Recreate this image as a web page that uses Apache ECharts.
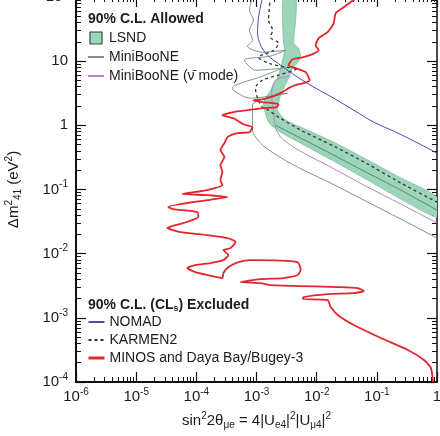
<!DOCTYPE html>
<html><head><meta charset="utf-8">
<script src="https://cdn.jsdelivr.net/npm/echarts@6/dist/echarts.min.js"></script>
<style>html,body{margin:0;padding:0;background:#fff}#c{width:440px;height:436px}</style>
</head><body><div id="c"></div>
<script>
// ---- axis ticks / labels ----
const xTickValues = [1e-6, 1e-5, 1e-4, 1e-3, 1e-2, 1e-1, 1];
const xTickLabels = [['10','-6'],['10','-5'],['10','-4'],['10','-3'],['10','-2'],['10','-1'],['1','']];
const yTickValues = [1e-4, 1e-3, 1e-2, 1e-1, 1, 10, 100];
const yTickLabels = [['10','-4'],['10','-3'],['10','-2'],['10','-1'],['1',''],['10',''],['10','2']];

// ---- series data [sin^2 2theta, dm^2] ----
const lsndBand = [
  [2.82e-3,100],[2.71e-3,43.5],[2.82e-3,19.1],[2.93e-3,14.8],[2.71e-3,10.4],[2.33e-3,6.05],
  [1.71e-3,3.53],[1.31e-3,2.22],[1.585e-3,1.12],[2.51e-3,0.783],[5.41e-3,0.528],[0.0192,0.277],
  [0.0708,0.140],[0.251,0.0708],[1.0,0.0372],
  [1.0,0.0762],[0.251,0.151],[0.0708,0.287],[0.0192,0.547],[5.41e-3,0.938],[3.04e-3,1.21],
  [2.24e-3,1.72],[2.51e-3,2.95],[3.29e-3,5.06],[3.98e-3,7.78],[5.41e-3,11.1],[5.01e-3,15.9],
  [4.14e-3,19.1],[4.47e-3,43.5],[4.47e-3,100]
];
const lsndInner = [[2.07e-3,1.0],[5.41e-3,0.633],[0.0192,0.344],[0.0708,0.180],[0.251,0.098],[1.0,0.0477]];

const miniboone = [
  [8.58e-4,100],[7.65e-4,62.3],[8.91e-4,43.5],[7.65e-4,30.4],[8.58e-4,21.2],[7.08e-4,17.1],
  [1.26e-3,13.8],[3.04e-3,14.8],[1.71e-3,12.0],[6.31e-4,10.4],[9.62e-4,7.24],[2.71e-3,7.78],
  [1.26e-3,5.84],[3.98e-4,3.80],[7.94e-4,2.65],[3.29e-3,3.18],[1.26e-3,2.56],[8.58e-4,2.07],
  [8.58e-4,0.841],[1.166e-3,0.528],[1.92e-3,0.369],[4.82e-3,0.223],[0.0171,0.126],
  [0.0656,0.0659],[0.251,0.0346],[1.0,0.0175]
];
const minibooneBar = [
  [3.686e-3,5.84],[2.07e-3,5.06],[1.78e-3,2.95],[1.92e-3,1.72],[2.07e-3,0.938],[2.51e-3,0.655],
  [4.14e-3,0.457],[7.08e-3,0.344],[0.0171,0.223],[0.0656,0.113],[0.251,0.0593],[1.0,0.0300]
];
const nomad = [
  [1.26e-3,100],[1.08e-3,48.4],[1.04e-3,27.3],[1.17e-3,17.7],[1.52e-3,12.4],[2.51e-3,8.66],
  [4.82e-3,5.63],[9.6e-3,3.80],[0.0192,2.65],[0.0414,1.72],[0.0891,1.12],[0.224,0.757],
  [0.482,0.528],[1.0,0.369]
];
const karmen = [
  [1.71e-3,100],[1.585e-3,43.5],[1.85e-3,30.4],[1.71e-3,23.6],[2.33e-3,19.1],[1.92e-3,14.8],
  [1.08e-3,11.5],[1.585e-3,9.31],[3.04e-3,8.07],[4.82e-3,7.78],[2.33e-3,6.05],[1.26e-3,5.06],
  [9.62e-4,3.80],[1.04e-3,2.65],[1.26e-3,1.92],[1.585e-3,1.72],[2.33e-3,1.34],[4.47e-3,0.938],
  [5.41e-3,0.841],[0.0192,0.474],[0.0708,0.249],[0.251,0.126],[1.0,0.0637]
];
const minos = [
  [0.048,100],[0.0282,69.4],[0.0207,56],[0.0192,39.1],[0.0152,28.3],[0.0108,22.8],[0.0096,17.7],
  [0.0108,14.8],[0.00858,12.9],[0.00585,11.5],[0.00398,10.7],[0.00341,8.66],[0.00447,7.78],
  [0.00656,6.74],[0.00764,5.06],[0.00607,4.54],[0.00447,4.23],[0.00341,3.80],[0.00271,3.29],
  [0.00192,2.85],[0.00131,2.56],[0.000891,2.47],[0.00126,2.30],[0.00233,2.14],[0.00215,1.92],
  [0.00126,1.85],[0.000708,1.72],[0.000414,1.61],[0.000271,1.44],[0.000414,1.29],[0.000607,1.04],
  [0.000857,0.938],[0.000764,0.783],[0.000482,0.757],[0.000329,0.655],[0.000293,0.528],
  [0.000251,0.411],[0.000293,0.320],[0.000251,0.240],[0.000271,0.187],[0.000251,0.140],
  [0.000271,0.117],[0.000152,0.098],[5.85e-5,0.0848],[0.000152,0.0818],[0.000329,0.0762],
  [0.000152,0.0684],[3.41e-5,0.0532],[4.14e-5,0.0495],[0.000104,0.0445],[0.000108,0.0372],
  [6.07e-5,0.0300],[3.29e-5,0.0251],[5.41e-5,0.0217],[0.000152,0.0195],[0.000329,0.0175],
  [0.000447,0.0152],[0.000369,0.0122],[0.000282,0.0114],[0.000341,0.00951],[0.000282,0.00794],
  [0.000171,0.00714],[9.62e-5,0.00664],[7.08e-5,0.00597],[9.62e-5,0.00516],[0.000152,0.00465],
  [0.000271,0.00417],[0.000282,0.00499],[0.000341,0.00618],[0.000501,0.00740],[0.000794,0.00794],
  [0.00482,0.00740],[0.00541,0.00556],[0.00482,0.00465],[0.00282,0.00417],[0.00117,0.00402],
  [0.000541,0.00361],[0.00117,0.00348],[0.00171,0.00324],[0.0224,0.00302],[0.0482,0.00291],
  [0.0607,0.00261],[0.0414,0.00243],[0.0152,0.00235],[0.00607,0.00211],[0.00585,0.00196],
  [0.0152,0.00189],[0.0171,0.00147],[0.0224,0.00111],[0.0414,0.000773],[0.117,0.000484],
  [0.329,0.000315],[0.607,0.000220],[0.794,0.000165],[0.857,0.0001]
];

// minor ticks (2..9 x each decade)
function minorTicks(lo, hi) {
  const out = [];
  for (let e = lo; e < hi; e++) for (let m = 2; m <= 9; m++) out.push(m * Math.pow(10, e));
  return out;
}
const xMinor = minorTicks(-6, 0);
const yMinor = minorTicks(-4, 2);

const FONT = 'Liberation Sans';
const INK = '#1c1c1c';
const rich = {
  b: {fontSize: 15, lineHeight: 20, fontFamily: FONT, color: INK},
  s: {fontSize: 10, fontFamily: FONT, color: INK, padding: [0, 0, 10, 0]}
};
function makeFmt(vals, labels) {
  return function (v) {
    for (let i = 0; i < vals.length; i++) {
      if (Math.abs(Math.log10(v) - Math.log10(vals[i])) < 1e-6) {
        const l = labels[i];
        return '{b|' + l[0] + '}' + (l[1] ? '{s|' + l[1] + '}' : '');
      }
    }
    return '';
  };
}

function majorAxis(isX, pos, withLabels, lineW) {
  const vals = isX ? xTickValues : yTickValues;
  return {
    type: 'log', logBase: 10,
    min: isX ? 1e-6 : 1e-4, max: isX ? 1 : 100,
    position: pos,
    axisLine: {show: true, onZero: false, lineStyle: {color: '#111', width: lineW}},
    axisTick: {show: true, inside: true, length: 10, customValues: vals, lineStyle: {color: '#111', width: 1.2}},
    axisLabel: withLabels ? {show: true, customValues: vals, margin: isX ? 5 : 8, formatter: makeFmt(vals, isX ? xTickLabels : yTickLabels), rich: rich} : {show: false},
    splitLine: {show: false}, minorTick: {show: false}, axisPointer: {show: false}
  };
}
function minorAxis(isX, pos) {
  return {
    type: 'log', logBase: 10,
    min: isX ? 1e-6 : 1e-4, max: isX ? 1 : 100,
    position: pos,
    axisLine: {show: false, onZero: false},
    axisTick: {show: true, inside: true, length: 5, customValues: isX ? xMinor : yMinor, lineStyle: {color: '#111', width: 1}},
    axisLabel: {show: false}, splitLine: {show: false}
  };
}

const nameRich = {
  sup: {fontSize: 10, fontFamily: FONT, color: INK, padding: [0, 0, 9, 0]},
  sub: {fontSize: 10, fontFamily: FONT, color: INK, padding: [9, 0, 0, 0]}
};
const xMain = majorAxis(true, 'bottom', true, 2);
xMain.name = 'sin{sup|2}2θ{sub|μe} = 4|U{sub|e4}|{sup|2}|U{sub|μ4}|{sup|2}';
xMain.nameLocation = 'middle';
xMain.nameGap = 28;
xMain.nameTextStyle = {fontSize: 15, fontFamily: FONT, color: INK, lineHeight: 22, rich: nameRich};
const yMain = majorAxis(false, 'left', true, 2);
yMain.name = 'Δm{sup|2}{sub|41} (eV{sup|2})';
yMain.nameLocation = 'middle';
yMain.nameGap = 51;
yMain.nameTextStyle = {fontSize: 15, fontFamily: FONT, color: INK, lineHeight: 22, rich: nameRich};

const hideSym = {opacity: 0};
const chart = echarts.init(document.getElementById('c'), null, {renderer: 'canvas'});
chart.setOption({
  animation: false,
  backgroundColor: '#fff',
  grid: {left: 76, right: 3, top: -3, bottom: 54, containLabel: false, outerBoundsMode: 'none'},
  title: [
    {text: '90% C.L. Allowed', left: 88, top: 11, padding: 0,
     textStyle: {fontSize: 14, fontWeight: 'bold', fontFamily: FONT, color: INK, lineHeight: 16}},
    {text: '90% C.L. (CL{s|s}) Excluded', left: 88, top: 297, padding: 0,
     textStyle: {fontSize: 14, fontWeight: 'bold', fontFamily: FONT, color: INK, lineHeight: 16,
       rich: {s: {fontSize: 9, fontWeight: 'bold', fontFamily: FONT, color: INK, padding: [7, 0, 0, 0]}}}}
  ],
  legend: [
    {data: [
       {name: 'LSND', icon: 'path://M0,0L12,0L12,12L0,12Z', itemStyle: {color: '#9dd5ba', borderColor: '#2f4a3c', borderWidth: 1.2}},
       {name: 'MiniBooNE', itemStyle: hideSym},
       {name: 'MiniBooNE (ν\u0304 mode)', itemStyle: hideSym}
     ],
     orient: 'vertical', left: 87, top: 31, itemWidth: 16, itemHeight: 12, itemGap: 5, padding: 0,
     selectedMode: false, textStyle: {fontSize: 14, fontFamily: FONT, color: INK, lineHeight: 14}},
    {data: [
       {name: 'NOMAD', itemStyle: hideSym},
       {name: 'KARMEN2', itemStyle: hideSym},
       {name: 'MINOS and Daya Bay/Bugey-3', itemStyle: hideSym, lineStyle: {width: 3}}
     ],
     orient: 'vertical', left: 87, top: 315, itemWidth: 16, itemHeight: 12, itemGap: 4, padding: 0,
     selectedMode: false, textStyle: {fontSize: 14, fontFamily: FONT, color: INK, lineHeight: 14}}
  ],
  xAxis: [xMain, minorAxis(true, 'bottom'), majorAxis(true, 'top', false, 1.5), minorAxis(true, 'top')],
  yAxis: [yMain, minorAxis(false, 'left'), majorAxis(false, 'right', false, 1.5), minorAxis(false, 'right')],
  series: [
    {type: 'custom', name: 'LSND', xAxisIndex: 0, yAxisIndex: 0, clip: true, silent: true,
     itemStyle: {color: '#9dd5ba'},
     data: [lsndBand[0]],
     renderItem: function (params, api) {
       return {type: 'group', children: [
         {type: 'polygon', shape: {points: lsndBand.map(function (p) { return api.coord(p); }), smooth: 0.2},
          style: {fill: '#9dd5ba', stroke: '#7cbf9e', lineWidth: 0.8}},
         {type: 'polyline', shape: {points: lsndInner.map(function (p) { return api.coord(p); })},
          style: {fill: null, stroke: '#4d9070', lineWidth: 1}}
       ]};
     }},
    {type: 'line', name: 'MiniBooNE', data: miniboone, symbol: 'none', smooth: 0.3, clip: true,
     color: '#6f8a7b', lineStyle: {color: '#7f9487', width: 1}},
    {type: 'line', name: 'MiniBooNE (ν\u0304 mode)', data: minibooneBar, symbol: 'none', smooth: 0.3, clip: true,
     color: '#a865b8', lineStyle: {color: '#b883c6', width: 1}},
    {type: 'line', name: 'KARMEN2', data: karmen, symbol: 'none', smooth: 0.3, clip: true,
     color: '#222', lineStyle: {color: '#333', width: 1.3, type: [3, 3]}},
    {type: 'line', name: 'NOMAD', data: nomad, symbol: 'none', smooth: 0.3, clip: true,
     color: '#3c3cb4', lineStyle: {color: '#4848bf', width: 1}},
    {type: 'line', name: 'MINOS and Daya Bay/Bugey-3', data: minos, symbol: 'none', smooth: 0.2, clip: true,
     color: '#e0202a', lineStyle: {color: '#e3262b', width: 1.8}}
  ]
});
</script></body></html>
